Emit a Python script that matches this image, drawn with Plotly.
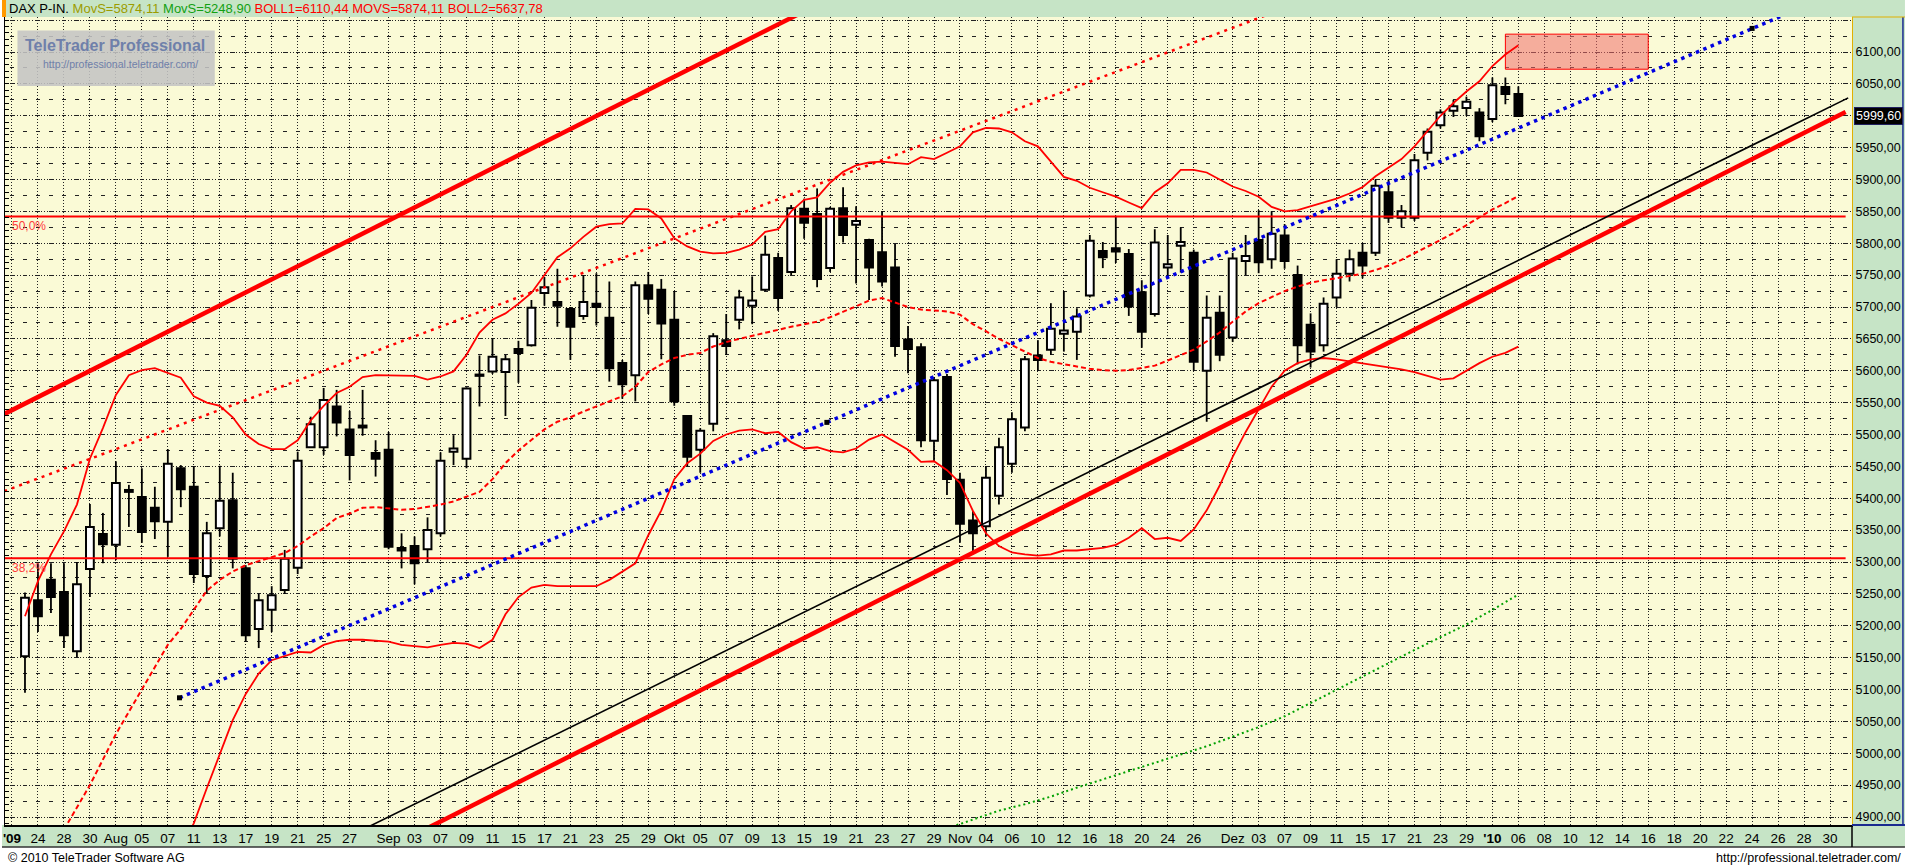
import plotly.graph_objects as go

# ------------------------------------------------------------------
# DATA  (x = trading-day slot; slot 0 = 22.07.2009, future slots keep the spacing)
# ------------------------------------------------------------------
slot = list(range(1, 117))
open_ = [5152, 5240, 5272, 5253, 5160, 5289, 5344, 5327, 5413, 5402,
         5385, 5363, 5447, 5418, 5278, 5353, 5397, 5290, 5195, 5225,
         5256, 5291, 5480, 5480, 5544, 5508, 5514, 5471, 5476, 5322,
         5325, 5320, 5345, 5473, 5462, 5594, 5599, 5598, 5634, 5640,
         5722, 5708, 5697, 5686, 5705, 5683, 5612, 5593, 5734, 5727,
         5680, 5529, 5476, 5517, 5648, 5680, 5702, 5727, 5777, 5755,
         5854, 5846, 5761, 5855, 5829, 5805, 5786, 5762, 5649, 5637,
         5490, 5590, 5429, 5365, 5356, 5404, 5454, 5511, 5624, 5633,
         5658, 5661, 5718, 5788, 5792, 5783, 5723, 5689, 5762, 5796,
         5785, 5600, 5691, 5652, 5772, 5805, 5775, 5812, 5750, 5672,
         5640, 5715, 5752, 5785, 5785, 5880, 5840, 5840, 5942, 5985,
         6008, 6012, 6005, 5995, 6045, 6034]
high = [5252, 5298, 5298, 5298, 5300, 5391, 5377, 5458, 5421, 5447,
        5418, 5477, 5452, 5450, 5363, 5451, 5440, 5295, 5250, 5262,
        5319, 5473, 5528, 5573, 5570, 5537, 5570, 5491, 5504, 5345,
        5340, 5370, 5472, 5499, 5574, 5624, 5651, 5625, 5647, 5711,
        5747, 5760, 5700, 5750, 5753, 5740, 5617, 5740, 5755, 5744,
        5725, 5530, 5510, 5659, 5689, 5727, 5748, 5812, 5785, 5860,
        5870, 5886, 5857, 5888, 5858, 5807, 5850, 5799, 5670, 5643,
        5590, 5595, 5440, 5380, 5450, 5495, 5535, 5623, 5648, 5706,
        5725, 5698, 5813, 5802, 5843, 5791, 5742, 5822, 5813, 5825,
        5790, 5718, 5718, 5785, 5813, 5852, 5850, 5830, 5765, 5690,
        5715, 5775, 5790, 5800, 5900, 5900, 5860, 5940, 5980, 6010,
        6025, 6030, 6012, 6060, 6060, 6046]
low = [5095, 5190, 5220, 5165, 5150, 5245, 5298, 5303, 5355, 5330,
       5336, 5308, 5386, 5267, 5250, 5340, 5290, 5175, 5165, 5190,
       5250, 5281, 5479, 5468, 5497, 5428, 5498, 5434, 5320, 5290,
       5265, 5300, 5340, 5452, 5447, 5544, 5595, 5529, 5581, 5638,
       5702, 5669, 5617, 5680, 5671, 5583, 5556, 5552, 5689, 5618,
       5545, 5450, 5440, 5505, 5625, 5665, 5673, 5725, 5694, 5750,
       5807, 5731, 5755, 5801, 5737, 5711, 5732, 5622, 5596, 5480,
       5457, 5405, 5330, 5312, 5340, 5390, 5440, 5505, 5600, 5625,
       5630, 5617, 5715, 5761, 5769, 5686, 5636, 5685, 5746, 5754,
       5600, 5520, 5615, 5645, 5750, 5753, 5760, 5760, 5610, 5605,
       5630, 5700, 5740, 5745, 5780, 5832, 5825, 5835, 5930, 5980,
       5998, 6000, 5960, 5990, 6018, 5999.6]
close = [5244, 5215, 5245, 5185, 5265, 5355, 5328, 5424, 5410, 5347,
         5364, 5454, 5414, 5281, 5345, 5396, 5305, 5185, 5240, 5248,
         5305, 5459, 5516, 5554, 5519, 5468, 5511, 5462, 5324, 5318,
         5298, 5350, 5459, 5478, 5572, 5592, 5622, 5618, 5628, 5699,
         5731, 5702, 5669, 5708, 5700, 5604, 5579, 5734, 5713, 5674,
         5552, 5465, 5506, 5654, 5639, 5715, 5710, 5782, 5714, 5855,
         5832, 5744, 5854, 5813, 5835, 5762, 5740, 5639, 5634, 5491,
         5585, 5430, 5360, 5345, 5432, 5480, 5524, 5618, 5617, 5666,
         5663, 5685, 5804, 5778, 5787, 5701, 5661, 5801, 5767, 5802,
         5614, 5683, 5625, 5776, 5780, 5770, 5815, 5772, 5640, 5630,
         5705, 5752, 5775, 5765, 5890, 5840, 5850, 5930, 5975, 6005,
         6015, 6022, 5968, 6048, 6034, 5999.6]

# Bollinger bands (20) : upper / middle (MOVS) / lower
boll_up_x = list(range(1, 117))
boll_up_y = [5215, 5270, 5312, 5348, 5390, 5462, 5510, 5562, 5593, 5601,
             5604, 5597, 5589, 5560, 5550, 5545, 5527, 5500, 5485, 5477,
             5477, 5491, 5522, 5545, 5565, 5575, 5590, 5593, 5593, 5593,
             5592, 5586, 5591, 5599, 5625, 5660, 5680, 5690, 5705, 5722,
             5750, 5778, 5792, 5810, 5826, 5830, 5831, 5854, 5853, 5839,
             5808, 5795, 5787, 5784, 5785, 5790, 5798, 5818, 5822, 5850,
             5868, 5872, 5895, 5912, 5922, 5927, 5928, 5926, 5924, 5935,
             5932, 5942, 5952, 5974, 5981, 5980, 5974, 5960, 5952, 5928,
             5904, 5898, 5887, 5880, 5873, 5864, 5855, 5880, 5894, 5915,
             5915, 5911, 5900, 5889, 5882, 5873, 5857, 5850, 5852, 5858,
             5864, 5870, 5878, 5888, 5905, 5918, 5932, 5952, 5976, 6000,
             6020, 6038, 6054, 6078, 6096, 6110.44]
boll_mid_x = list(range(4, 117))
boll_mid_y = [4880, 4915, 4950, 4990, 5030, 5065, 5100, 5135, 5170, 5195,
              5225, 5255, 5272, 5285, 5295, 5301, 5308, 5314, 5325, 5340,
              5353, 5369, 5376, 5385, 5386, 5384, 5382, 5383, 5386, 5390,
              5395, 5402, 5410, 5430, 5455, 5475, 5492, 5508, 5520, 5527,
              5536, 5544, 5552, 5560, 5575, 5598, 5610, 5620, 5625, 5628,
              5638, 5645, 5650, 5655, 5660, 5665, 5669, 5673, 5677, 5684,
              5692, 5701, 5710, 5714, 5707, 5700, 5696, 5695, 5693, 5688,
              5673, 5662, 5650, 5640, 5630, 5620, 5614, 5610, 5606, 5603,
              5601, 5600, 5601, 5604, 5608, 5616, 5624, 5633, 5646, 5660,
              5677, 5693, 5706, 5716, 5725, 5732, 5738, 5742, 5745, 5748,
              5752, 5758, 5765, 5774, 5784, 5794, 5805, 5816, 5828, 5840,
              5853, 5863, 5874.11]
boll_low_x = list(range(13, 117))
boll_low_y = [4850, 4890, 4945, 5000, 5052, 5093, 5125, 5146, 5153, 5159,
              5158, 5170, 5176, 5178, 5178, 5177, 5175, 5170, 5168, 5166,
              5170, 5173, 5172, 5165, 5178, 5218, 5245, 5260, 5264, 5262,
              5262, 5262, 5262, 5272, 5285, 5298, 5342, 5381, 5430, 5455,
              5470, 5490, 5500, 5506, 5508, 5502, 5504, 5488, 5478, 5480,
              5474, 5472, 5478, 5492, 5500, 5488, 5476, 5457, 5458, 5444,
              5424, 5380, 5345, 5325, 5315, 5312, 5310, 5312, 5318, 5318,
              5320, 5322, 5327, 5338, 5353, 5336, 5338, 5333, 5351, 5381,
              5420, 5465, 5504, 5539, 5575, 5600, 5612, 5618, 5620, 5618,
              5615, 5612, 5608, 5605, 5602, 5598, 5592, 5586, 5588, 5600,
              5612, 5622, 5628, 5637.78]

# long moving average (MovS, green dotted)
movs_x = [72, 74, 76, 78, 80, 82, 84, 86, 88, 90, 92, 94,
          96, 98, 100, 102, 104, 106, 108, 110, 112, 114, 116]
movs_y = [4882, 4896, 4910, 4920, 4932, 4946, 4959, 4972, 4985, 4998, 5011, 5026,
          5041, 5058, 5079, 5100, 5120, 5141, 5162, 5182, 5202, 5225, 5248.9]

# drawn trend lines (start / end points)
chan_top_x, chan_top_y = [-1.0, 62.0], [5528, 6174]
chan_bot_x, chan_bot_y = [30.0, 141.2], [4862, 6006]
thin_black_x, thin_black_y = [25.0, 141.4], [4860, 6028]
red_dot_x, red_dot_y = [-0.6, 100.0], [5411, 6184]
blue_x, blue_y = [12.9, 137.5], [5087, 6167]
blue_handle_x, blue_handle_y = [12.9, 62.75, 134.0], [5087, 5519, 6137]

# Fibonacci retracement levels
fib_x = [-0.6, 141.2]
fib50_y, fib382_y = 5842, 5306
fib50_lbl, fib382_lbl = "50,0%", "38,2%"

# target zone
zone_x = [115.0, 126.0]
zone_y = [6073, 6128]

# header values
last_price = 5999.60
hdr_movs1, hdr_movs2 = 5874.11, 5248.90
hdr_boll1, hdr_movs, hdr_boll2 = 6110.44, 5874.11, 5637.78

# x tick labels
x_tick_idx = [0, 2, 4, 6, 8, 10, 12, 14, 16, 18, 20, 22, 24, 26,
              29, 31, 33, 35, 37, 39, 41, 43, 45, 47, 49,
              51, 53, 55, 57, 59, 61, 63, 65, 67, 69, 71,
              73, 75, 77, 79, 81, 83, 85, 87, 89, 91,
              94, 96, 98, 100, 102, 104, 106, 108, 110, 112,
              114, 116, 118, 120, 122, 124, 126, 128, 130, 132, 134, 136, 138, 140]
x_tick_lbl = ["<b>'09</b>", "24", "28", "30", "Aug", "05", "07", "11", "13", "17", "19", "21", "25", "27",
              "Sep", "03", "07", "09", "11", "15", "17", "21", "23", "25", "29",
              "Okt", "05", "07", "09", "13", "15", "19", "21", "23", "27", "29",
              "Nov", "04", "06", "10", "12", "16", "18", "20", "24", "26",
              "Dez", "03", "07", "09", "11", "15", "17", "21", "23", "29",
              "<b>'10</b>", "06", "08", "10", "12", "14", "16", "18", "20", "22", "24", "26", "28", "30"]
y_tick_vals = list(range(4900, 6151, 50))
y_hidden = [6000, 6150]


def de(v):
    return f"{v:,.2f}".replace(",", "X").replace(".", ",").replace("X", "")


# ------------------------------------------------------------------
# LAYOUT GEOMETRY
# ------------------------------------------------------------------
W, H = 1905, 868
ML, MR, MT, MB = 3, 53, 17, 43
PW, PH = W - ML - MR, H - MT - MB
X_RANGE = [-0.5385, 141.692]
Y_RANGE = [4887.45, 6154.9]
FONT = "Liberation Sans, Arial, sans-serif"
RED = "#FF0000"
BAND = "#C6E4C6"


def pxx(X):
    return (X - ML) / PW


def pxy(Y):
    return (H - MB - Y) / PH


fig = go.Figure()

# candle wicks (above and below the body)
wx, wy = [], []
for i, o, h, l, c in zip(slot, open_, high, low, close):
    top, bot = max(o, c), min(o, c)
    wx += [i, i, None, i, i, None]
    wy += [h, top, None, bot, l, None]
fig.add_trace(go.Scatter(x=wx, y=wy, mode="lines", line=dict(color="black", width=1.8),
                         hoverinfo="skip", showlegend=False))

# candle bodies
ux, ub, uh, dx, db, dh = [], [], [], [], [], []
for i, o, c in zip(slot, open_, close):
    if c >= o:
        ux.append(i); ub.append(o); uh.append(c - o)
    else:
        dx.append(i); db.append(c); dh.append(o - c)
fig.add_trace(go.Bar(x=ux, y=uh, base=ub, width=0.6,
                     marker=dict(color="white", line=dict(color="black", width=2)),
                     hoverinfo="skip", showlegend=False))
fig.add_trace(go.Bar(x=dx, y=dh, base=db, width=0.6,
                     marker=dict(color="black", line=dict(color="black", width=2)),
                     hoverinfo="skip", showlegend=False))


def line(x, y, color, width, dash="solid", **kw):
    fig.add_trace(go.Scatter(x=x, y=y, mode="lines", line=dict(color=color, width=width, dash=dash),
                             hoverinfo="skip", showlegend=False, **kw))


# Fibonacci lines
line(fib_x, [fib50_y, fib50_y], RED, 2)
line(fib_x, [fib382_y, fib382_y], RED, 2)

# Bollinger bands + moving averages
line(boll_up_x, boll_up_y, RED, 1.8)
line(boll_low_x, boll_low_y, RED, 1.8)
line(boll_mid_x, boll_mid_y, RED, 2, "5px,3px")
line(movs_x, movs_y, "#00A000", 2, "2px,3px")

# trend lines
line(chan_top_x, chan_top_y, RED, 4.5)
line(chan_bot_x, chan_bot_y, RED, 4.5)
line(thin_black_x, thin_black_y, "black", 1.6)
line(red_dot_x, red_dot_y, RED, 2.5, "3px,5px")
line(blue_x, blue_y, "#0000E0", 3.5, "3.5px,4.5px")
fig.add_trace(go.Scatter(x=blue_handle_x, y=blue_handle_y, mode="markers",
                         marker=dict(symbol="square", size=5, color="black"),
                         hoverinfo="skip", showlegend=False))

# dummy trace for the left tick axis
fig.add_trace(go.Scatter(x=[None], y=[None], yaxis="y2", showlegend=False, hoverinfo="skip"))

shapes = [
    # target zone
    dict(type="rect", xref="x", yref="y", x0=zone_x[0], x1=zone_x[1], y0=zone_y[0], y1=zone_y[1],
         fillcolor="rgba(240,110,110,0.55)", line=dict(color=RED, width=1), layer="between"),
    # watermark box
    dict(type="rect", xref="paper", yref="paper", x0=pxx(15.5), x1=pxx(213), y0=pxy(86), y1=pxy(30.5),
         fillcolor="rgba(196,196,196,0.88)", line=dict(width=0), layer="above"),
    # header band
    dict(type="rect", xref="paper", yref="paper", x0=pxx(0), x1=pxx(W), y0=1, y1=pxy(0),
         fillcolor=BAND, line=dict(width=0), layer="below"),
    dict(type="rect", xref="paper", yref="paper", x0=pxx(0), x1=pxx(4), y0=1, y1=pxy(0),
         fillcolor="#FF9900", line=dict(width=0), layer="below"),
    # right axis band
    dict(type="rect", xref="paper", yref="paper", x0=1, x1=pxx(W), y0=pxy(847), y1=1,
         fillcolor=BAND, line=dict(width=0), layer="below"),
    # bottom axis band
    dict(type="rect", xref="paper", yref="paper", x0=pxx(0), x1=pxx(W), y0=pxy(847), y1=0,
         fillcolor=BAND, line=dict(width=0), layer="below"),
    dict(type="line", xref="paper", yref="paper", x0=pxx(0), x1=pxx(W), y0=pxy(847), y1=pxy(847),
         line=dict(color="#333333", width=1.5)),
    dict(type="line", xref="paper", yref="paper", x0=1, x1=1, y0=pxy(847), y1=0,
         line=dict(color="black", width=1.5)),
    dict(type="line", xref="paper", yref="paper", x0=1, x1=pxx(W), y0=0, y1=0,
         line=dict(color="#1A2A90", width=2)),
    dict(type="line", xref="paper", yref="paper", x0=pxx(1903), x1=pxx(1903), y0=0, y1=1,
         line=dict(color="#1A2A90", width=1.5)),
    dict(type="line", xref="paper", yref="paper", x0=1, x1=pxx(W), y0=1, y1=1,
         line=dict(color="#E0B000", width=1)),
]

hdr = ("DAX P-IN. "
       f"<span style='color:#9C9C00'>MovS={de(hdr_movs1)}</span> "
       f"<span style='color:#12A012'>MovS={de(hdr_movs2)}</span> "
       f"<span style='color:#FF0000'>BOLL1={de(hdr_boll1)} MOVS={de(hdr_movs)} BOLL2={de(hdr_boll2)}</span>")

annotations = [
    dict(text=hdr, xref="paper", yref="paper", x=pxx(5), y=pxy(9), xanchor="left", yanchor="middle",
         showarrow=False, font=dict(family=FONT, size=13, color="black")),
    dict(text="<b>TeleTrader Professional</b>", xref="paper", yref="paper", x=pxx(113), y=pxy(45),
         xanchor="center", yanchor="middle", showarrow=False,
         font=dict(family=FONT, size=16, color="#6F80AA")),
    dict(text="http://professional.teletrader.com/", xref="paper", yref="paper", x=pxx(198), y=pxy(64),
         xanchor="right", yanchor="middle", showarrow=False,
         font=dict(family=FONT, size=10.5, color="#6F80AA")),
    dict(text=fib50_lbl, xref="paper", yref="y", x=pxx(8), y=fib50_y, xanchor="left", yanchor="top",
         yshift=-1, showarrow=False, font=dict(family=FONT, size=12, color="#FF3A3A")),
    dict(text=fib382_lbl, xref="paper", yref="y", x=pxx(8), y=fib382_y, xanchor="left", yanchor="top",
         yshift=-1, showarrow=False, font=dict(family=FONT, size=12, color="#FF3A3A")),
    dict(text=de(last_price), xref="paper", yref="y", x=1, y=last_price, xanchor="left", yanchor="middle",
         xshift=2, showarrow=False, bgcolor="black", bordercolor="#202060", borderwidth=1, borderpad=1,
         font=dict(family=FONT, size=12.5, color="white")),
    dict(text="© 2010 TeleTrader Software AG", xref="paper", yref="paper", x=pxx(4), y=pxy(858),
         xanchor="left", yanchor="middle", showarrow=False,
         font=dict(family=FONT, size=12.5, color="black")),
    dict(text="http://professional.teletrader.com/", xref="paper", yref="paper", x=pxx(1903), y=pxy(858),
         xanchor="right", yanchor="middle", showarrow=False,
         font=dict(family=FONT, size=12.5, color="black")),
]

fig.update_layout(
    width=W, height=H,
    margin=dict(l=ML, r=MR, t=MT, b=MB, pad=0),
    paper_bgcolor="white", plot_bgcolor="#FAFAD6",
    barmode="overlay", hovermode=False, showlegend=False,
    shapes=shapes, annotations=annotations,
    font=dict(family=FONT, color="black"),
    xaxis=dict(range=X_RANGE, tickmode="array", tickvals=x_tick_idx, ticktext=x_tick_lbl,
               showgrid=True, gridcolor="#222222", gridwidth=1, griddash="1px,2px",
               zeroline=False, showline=True, linecolor="black", linewidth=2, ticks="",
               tickfont=dict(family=FONT, size=13.5, color="black"), fixedrange=True),
    yaxis=dict(range=Y_RANGE, side="right", tickmode="array", tickvals=y_tick_vals,
               ticktext=["" if v in y_hidden else de(v) for v in y_tick_vals],
               showgrid=True, gridcolor="#222222", gridwidth=1, griddash="1px,2px",
               minor=dict(dtick=25, tick0=4925, showgrid=True, gridcolor="#222222", gridwidth=1,
                          griddash="0px,5px,4px,4px"),
               zeroline=False, showline=True, linecolor="#E0B000", linewidth=1, ticks="",
               tickfont=dict(family=FONT, size=12.5, color="black"), fixedrange=True),
    yaxis2=dict(range=Y_RANGE, overlaying="y", side="left", anchor="x", showgrid=False,
                zeroline=False, showticklabels=False, ticks="inside", ticklen=4, tickcolor="black",
                tick0=0, dtick=10, showline=True, linecolor="black", linewidth=1, fixedrange=True),
)

fig.write_html("out.html", config={"displayModeBar": False},
               post_script="document.body.style.margin='0px';document.body.style.overflow='hidden';")
